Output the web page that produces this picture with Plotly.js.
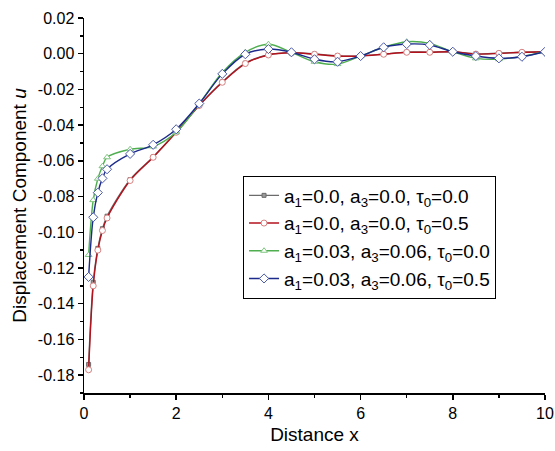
<!DOCTYPE html>
<html>
<head>
<meta charset="utf-8">
<script src="https://cdn.plot.ly/plotly-3.0.1.min.js"></script>
<style>html,body{margin:0;padding:0;background:#fff;}#chart{width:555px;height:451px;}</style>
</head>
<body>
<div id="chart"></div>
<script>
// Distance x
const xValues = [0.1, 0.2, 0.3, 0.4, 0.5, 1.0, 1.5, 2.0, 2.5, 3.0, 3.5, 4.0, 4.5, 5.0, 5.5, 6.0, 6.5, 7.0, 7.5, 8.0, 8.5, 9.0, 9.5, 10.0];

// a1=0.0, a3=0.0, tau0=0.0
const uGray = [-0.174, -0.128, -0.109, -0.098, -0.091, -0.0705, -0.0578, -0.0438, -0.0288, -0.0158, -0.0053, -0.0006, 0.0006, -0.0002, -0.0012, -0.0012, -0.0002, 0.0009, 0.0009, 0.0011, -0.0001, 0.0003, 0.0008, 0.0011];
// a1=0.0, a3=0.0, tau0=0.5
const uRed = [-0.177, -0.130, -0.110, -0.099, -0.092, -0.071, -0.058, -0.044, -0.029, -0.016, -0.0055, -0.0007, 0.0005, -0.0003, -0.0013, -0.0013, -0.0003, 0.0008, 0.0008, 0.0011, -0.0002, 0.0002, 0.0008, 0.0011];
// a1=0.03, a3=0.06, tau0=0.0
const uGreen = [-0.1127, -0.082, -0.070, -0.063, -0.058, -0.0535, -0.052, -0.044, -0.028, -0.0105, 0.0008, 0.0053, 0.0008, -0.0045, -0.0058, -0.0013, 0.0036, 0.0067, 0.0058, 0.0011, -0.0026, -0.0031, -0.0015, 0.0011];
// a1=0.03, a3=0.06, tau0=0.5
const uBlue = [-0.125, -0.0916, -0.0778, -0.0698, -0.0647, -0.0561, -0.051, -0.0423, -0.0279, -0.0113, -0.0003, 0.0026, 0.0008, -0.0031, -0.0045, -0.0013, 0.0036, 0.0054, 0.0049, 0.0011, -0.0013, -0.0026, -0.0017, 0.0011];

const seriesNames = [
  'a<sub>1</sub>=0.0, a<sub>3</sub>=0.0, τ<sub>0</sub>=0.0',
  'a<sub>1</sub>=0.0, a<sub>3</sub>=0.0, τ<sub>0</sub>=0.5',
  'a<sub>1</sub>=0.03, a<sub>3</sub>=0.06, τ<sub>0</sub>=0.0',
  'a<sub>1</sub>=0.03, a<sub>3</sub>=0.06, τ<sub>0</sub>=0.5'
];

const yTickVals = [0.02, 0.00, -0.02, -0.04, -0.06, -0.08, -0.10, -0.12, -0.14, -0.16, -0.18];
const yTickText = ['0.02', '0.00', '-0.02', '-0.04', '-0.06', '-0.08', '-0.10', '-0.12', '-0.14', '-0.16', '-0.18'];
const xTickVals = [0, 2, 4, 6, 8, 10];
const xTickText = ['0', '2', '4', '6', '8', '10'];

const FONT = 'Arial, "Liberation Sans", sans-serif';

function mk(y, name, lineColor, symbol, mColor, mLine, size) {
  return {
    x: xValues, y: y, name: name, type: 'scatter', mode: 'lines+markers',
    line: {color: lineColor, width: 1.4, shape: 'spline', smoothing: 0.9},
    marker: {symbol: symbol, size: size, color: mColor, line: {color: mLine, width: 1}}
  };
}

const traces = [
  mk(uGray, seriesNames[0], '#6b6b6b', 'square', '#9a9a9a', '#6b6b6b', 4),
  mk(uRed, seriesNames[1], '#b3121c', 'circle', '#ffffff', '#d98080', 6),
  mk(uGreen, seriesNames[2], '#4fae4f', 'triangle-up', '#ffffff', '#7fc47f', 6),
  mk(uBlue, seriesNames[3], '#1c2a8c', 'diamond', '#ffffff', '#4a5aa8', 7)
];

const layout = {
  width: 555, height: 451,
  margin: {l: 84, r: 10, t: 18, b: 58},
  paper_bgcolor: '#ffffff', plot_bgcolor: '#ffffff',
  font: {family: FONT, color: '#000'},
  showlegend: true,
  legend: {
    x: 0.345, y: 0.58, xanchor: 'left', yanchor: 'top',
    bgcolor: '#ffffff', bordercolor: '#000', borderwidth: 1,
    font: {family: FONT, size: 19, color: '#000'},
    tracegroupgap: 0
  },
  xaxis: {
    range: [0, 10], tickvals: xTickVals, ticktext: xTickText,
    ticks: 'outside', ticklen: 5, tickwidth: 1.5, tickcolor: '#000',
    showline: true, linecolor: '#000', linewidth: 1.5,
    showgrid: false, zeroline: false, ticklabeloverflow: 'allow',
    tickfont: {family: FONT, size: 16, color: '#000'},
    minor: {dtick: 1, tick0: 0, ticks: 'outside', ticklen: 3, tickwidth: 1.5, tickcolor: '#000', showgrid: false},
    title: {text: 'Distance x', font: {family: FONT, size: 19, color: '#000'}, standoff: 7}
  },
  yaxis: {
    range: [-0.19, 0.02], tickvals: yTickVals, ticktext: yTickText,
    ticks: 'outside', ticklen: 5, tickwidth: 1.5, tickcolor: '#000',
    showline: true, linecolor: '#000', linewidth: 1.5,
    showgrid: false, zeroline: false,
    tickfont: {family: FONT, size: 16, color: '#000'},
    minor: {dtick: 0.01, tick0: 0, ticks: 'outside', ticklen: 3, tickwidth: 1.5, tickcolor: '#000', showgrid: false},
    title: {text: 'Displacement Component <i>u</i>', font: {family: FONT, size: 19, color: '#000'}, standoff: 6}
  }
};

Plotly.newPlot('chart', traces, layout, {staticPlot: true, displayModeBar: false});
</script>
</body>
</html>
